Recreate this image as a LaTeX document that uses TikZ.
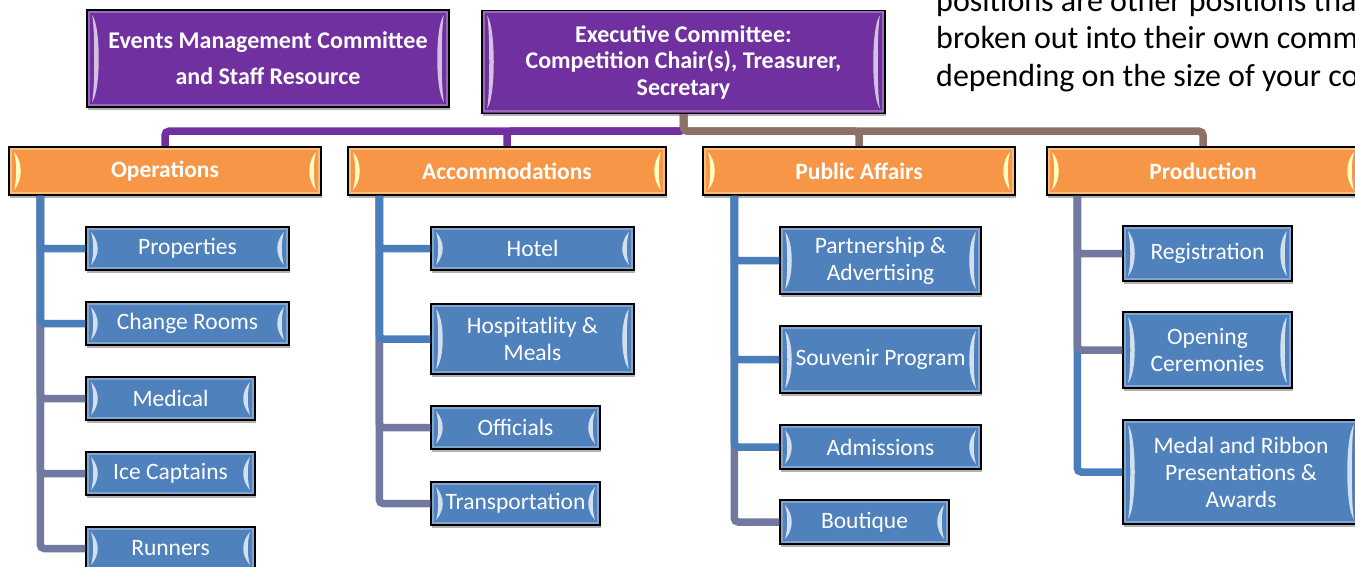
\documentclass[tikz,border=0pt]{standalone}
\usepackage{fontspec}
\setmainfont{Carlito}
\usetikzlibrary{shadows}
\definecolor{compurple}{HTML}{7030A0}
\definecolor{comorange}{HTML}{F79646}
\definecolor{comblue}{HTML}{4F81BD}
\definecolor{linebrown}{HTML}{8C7266}
\definecolor{lineblue}{HTML}{4A7EBB}
\definecolor{linegray}{HTML}{7179A1}
\tikzset{glint/.style={path picture={
  \draw[#1, opacity=0.4, line width=2pt] ([shift={(2pt,-2pt)}]path picture bounding box.north west) rectangle ([shift={(-2pt,2pt)}]path picture bounding box.south east);
  \fill[#1] ([shift={(5pt,-5pt)}]path picture bounding box.north west)
    .. controls +(9pt,-10pt) and +(9pt,10pt) .. ([shift={(5pt,5pt)}]path picture bounding box.south west)
    .. controls +(3pt,10pt) and +(3pt,-10pt) .. ([shift={(5pt,-5pt)}]path picture bounding box.north west) -- cycle;
  \fill[#1] ([shift={(-5pt,-5pt)}]path picture bounding box.north east)
    .. controls +(-9pt,-10pt) and +(-9pt,10pt) .. ([shift={(-5pt,5pt)}]path picture bounding box.south east)
    .. controls +(-3pt,10pt) and +(-3pt,-10pt) .. ([shift={(-5pt,-5pt)}]path picture bounding box.north east) -- cycle;
}}}
\tikzstyle{boxbase} = [rectangle,
draw=black,
line width=1.5pt,
inner sep=0pt,
text=white,
align=center,
drop shadow={shadow xshift=1pt, shadow yshift=-3pt, opacity=0.3, fill=black}]
\tikzstyle{execbox} = [boxbase, fill=compurple, glint=white!70!compurple,
font=\bfseries\fontsize{24}{26.5}\selectfont]
\tikzstyle{areabox} = [boxbase, fill=comorange, glint=yellow!25!white,
minimum width=312pt, minimum height=48pt,
font=\bfseries\fontsize{23.5}{27}\selectfont]
\tikzstyle{taskbox} = [boxbase, fill=comblue, glint=white!75!comblue,
minimum height=43pt,
font=\fontsize{23.5}{27}\selectfont]
\tikzstyle{notetext} = [inner sep=0pt, anchor=base west, text=black,
font=\fontsize{32}{38}\selectfont]
\tikzstyle{link} = [line width=7.5pt, rounded corners=4pt]
\tikzstyle{purpleline} = [link, compurple]
\tikzstyle{brownline} = [link, linebrown]
\tikzstyle{blueline} = [link, lineblue]
\tikzstyle{grayline} = [link, linegray]

\begin{document}
\begin{tikzpicture}[x=1pt, y=-1pt]
    \useasboundingbox (0,0) rectangle (1355,567);
    \clip (0,0) rectangle (1355,567);

    % Committees
    \node (events) [execbox, minimum width=362pt, minimum height=97pt,
      font=\bfseries\fontsize{24}{36}\selectfont] at (268,58.5)
      {Events Management Committee\\and Staff Resource};
    \node (exec) [execbox, minimum width=403pt, minimum height=103pt] at (683.5,62)
      {Executive Committee:\\Competition Chair(s), Treasurer,\\Secretary};

    % Note text
    \node (note1) [notetext] at (936,12) {positions are other positions tha};
    \node (note2) [notetext] at (936,49) {broken out into their own comm};
    \node (note3) [notetext] at (936,87) {depending on the size of your co};

    % Areas
    \node (ops) [areabox] at (165,171) {Operations};
    \node (acc) [areabox, minimum width=318pt] at (507,171) {Accommodations};
    \node (pub) [areabox] at (859,171) {Public Affairs};
    \node (prod) [areabox] at (1203,171) {Production};

    % Operations
    \node (prop) [taskbox, minimum width=203pt] at (187.5,248.5) {Properties};
    \node (rooms) [taskbox, minimum width=203pt] at (187.5,323.5) {Change Rooms};
    \node (med) [taskbox, minimum width=169pt] at (170.5,398.5) {Medical};
    \node (ice) [taskbox, minimum width=169pt] at (170.5,473.5) {Ice Captains};
    \node (run) [taskbox, minimum width=169pt] at (170.5,548.5) {Runners};

    % Accommodations
    \node (hotel) [taskbox, minimum width=203pt] at (532.5,248.5) {Hotel};
    \node (hosp) [taskbox, minimum width=203pt, minimum height=70pt] at (532.5,339) {Hospitatlity \&\\Meals};
    \node (off) [taskbox, minimum width=169pt] at (515.5,427.5) {Officials};
    \node (trans) [taskbox, minimum width=169pt] at (515.5,503.5) {Transportation};

    % Public Affairs
    \node (part) [taskbox, minimum width=201pt, minimum height=67pt] at (880.5,260.5) {Partnership \&\\Advertising};
    \node (souv) [taskbox, minimum width=201pt, minimum height=67pt] at (880.5,359.5) {Souvenir Program};
    \node (adm) [taskbox, minimum width=201pt, minimum height=44pt] at (880.5,447) {Admissions};
    \node (bout) [taskbox, minimum width=169pt, minimum height=44pt] at (864.5,522) {Boutique};

    % Production
    \node (reg) [taskbox, minimum width=169pt, minimum height=55pt] at (1207.5,253.5) {Registration};
    \node (open) [taskbox, minimum width=169pt, minimum height=76pt] at (1207.5,350) {Opening\\Ceremonies};
    \node (medal) [taskbox, minimum width=236pt, minimum height=104pt] at (1241,472) {Medal and Ribbon\\Presentations \&\\Awards};

    % Top links
    \draw [purpleline] (exec.south) -- ++(0,17) -| (ops.north);
    \draw [purpleline] (exec.south) -- ++(0,17) -| (acc.north);
    \draw [brownline] (exec.south) -- ++(0,17) -| (pub.north);
    \draw [brownline] (exec.south) -- ++(0,17) -| (prod.north);

    % Operations links
    \draw [grayline] ([xshift=32pt]ops.south west) |- (run.west);
    \draw [grayline] ([xshift=32pt]ops.south west) |- (ice.west);
    \draw [grayline] ([xshift=32pt]ops.south west) |- (med.west);
    \draw [blueline] ([xshift=32pt]ops.south west) |- (rooms.west);
    \draw [blueline] ([xshift=32pt]ops.south west) |- (prop.west);

    % Accommodations links
    \draw [grayline] ([xshift=32pt]acc.south west) |- (trans.west);
    \draw [grayline] ([xshift=32pt]acc.south west) |- (off.west);
    \draw [blueline] ([xshift=32pt]acc.south west) |- (hosp.west);
    \draw [blueline] ([xshift=32pt]acc.south west) |- (hotel.west);

    % Public Affairs links
    \draw [grayline] ([xshift=32pt]pub.south west) |- (bout.west);
    \draw [blueline] ([xshift=32pt]pub.south west) |- (adm.west);
    \draw [blueline] ([xshift=32pt]pub.south west) |- (souv.west);
    \draw [blueline] ([xshift=32pt]pub.south west) |- (part.west);

    % Production links
    \draw [blueline] ([xshift=31pt]prod.south west) |- (medal.west);
    \draw [grayline] ([xshift=31pt]prod.south west) |- (open.west);
    \draw [grayline] ([xshift=31pt]prod.south west) |- (reg.west);
\end{tikzpicture}
\end{document}
